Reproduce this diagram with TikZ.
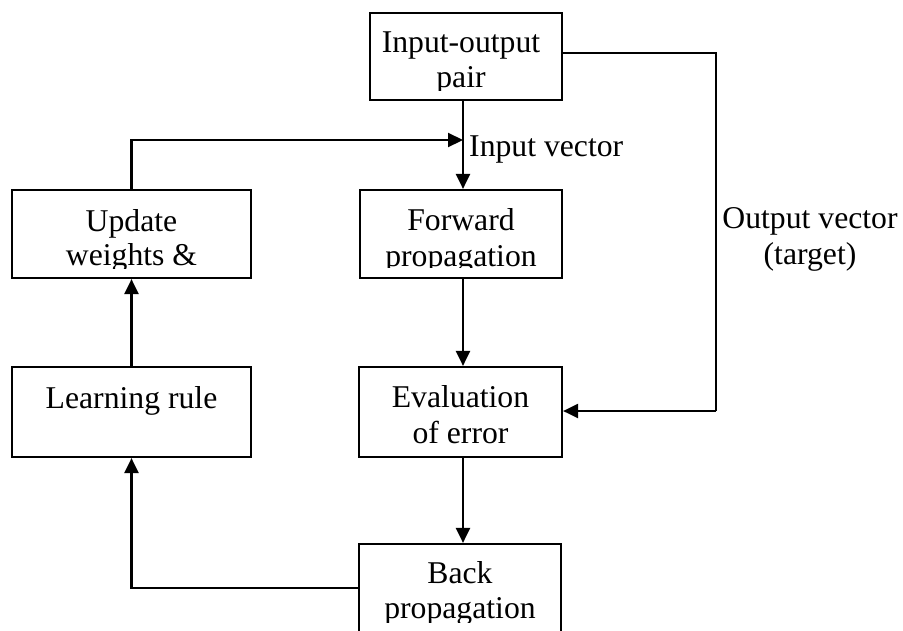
\documentclass[tikz,border=0pt]{standalone}
\usepackage{fontspec}
\setmainfont{Liberation Serif}
\usetikzlibrary{arrows.meta}
\tikzset{
  box/.style={draw=black, line width=2.2pt, rectangle, inner sep=0pt},
  txt/.style={anchor=base, inner sep=0pt, font=\fontsize{31.7}{35}\selectfont},
  lbl/.style={anchor=base west, inner sep=0pt, font=\fontsize{31.7}{35}\selectfont},
  conn/.style={line width=2.2pt, -{Triangle[length=15pt,width=14pt]}},
  plain/.style={line width=2.2pt}
}
\begin{document}
\begin{tikzpicture}[x=1pt,y=-1pt]
\useasboundingbox (0,0) rectangle (903,630);
\clip (0,0) rectangle (903,630);
% boxes
\node[box, minimum width=192pt, minimum height=87pt] (top) at (466,56.5) {};
\node[box, minimum width=202pt, minimum height=88pt] (fwd) at (461,234) {};
\node[box, minimum width=239pt, minimum height=88pt] (upd) at (131.5,234) {};
\node[box, minimum width=239pt, minimum height=90pt] (learn) at (131.5,412) {};
\node[box, minimum width=203pt, minimum height=90pt] (eval) at (460.5,412) {};
\node[box, minimum width=202pt, minimum height=90pt] (back) at (460,589) {};
% texts (clipped like the original text boxes)
\begin{scope}
\clip (372,15) rectangle (560,90);
\node[txt] (t1a) at (461,52) {Input-output};
\node[txt] (t1b) at (461,87) {pair};
\end{scope}
\begin{scope}
\clip (362,192) rectangle (560,267);
\node[txt] (t2a) at (461,230) {Forward};
\node[txt] (t2b) at (461,266) {propagation};
\end{scope}
\begin{scope}
\clip (14,192) rectangle (249,268);
\node[txt] (t3a) at (131.5,231) {Update};
\node[txt] (t3b) at (131.5,265) {weights \&};
\end{scope}
\node[txt] (t4) at (131.5,408) {Learning rule};
\node[txt] (t5a) at (460.5,407) {Evaluation};
\node[txt] (t5b) at (460.5,443) {of error};
\begin{scope}
\clip (361,546) rectangle (559,622);
\node[txt] (t6a) at (460,583) {Back};
\node[txt] (t6b) at (460,618) {propagation};
\end{scope}
% labels
\node[lbl] (lin) at (469,156) {Input vector};
\node[txt] (lout1) at (810,228) {Output vector};
\node[txt] (lout2) at (810,264) {(target)};
% connectors
\coordinate (vx) at (463,140);
\coordinate (o1) at (716,53);
\coordinate (o2) at (716,411);
\coordinate (b1) at (131.5,588);
\draw[conn] (vx |- top.south) -- (vx |- fwd.north);
\draw[conn] (upd.north) |- (vx);
\draw[plain] (top.east |- o1) -- (o1) -- (o2);
\draw[conn] (o2) -- (o2 -| eval.east);
\draw[conn] (vx |- fwd.south) -- (vx |- eval.north);
\draw[conn] (vx |- eval.south) -- (vx |- back.north);
\draw[conn] (b1 -| back.west) -- (b1) -- (learn.south);
\draw[conn] (learn.north) -- (upd.south);
\end{tikzpicture}
\end{document}
